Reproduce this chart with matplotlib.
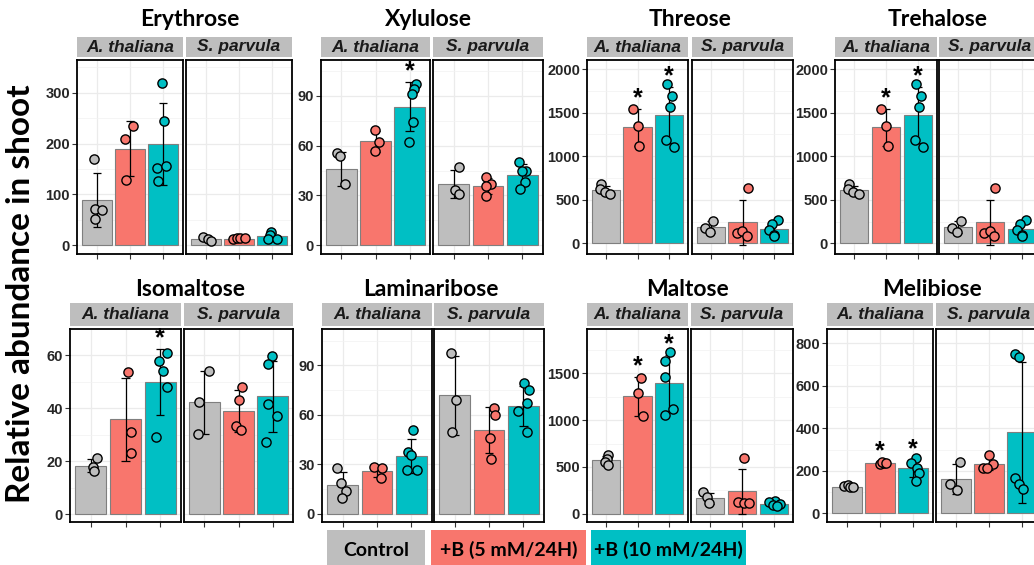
import matplotlib
matplotlib.use("Agg")
import matplotlib.pyplot as plt
from matplotlib.patches import Rectangle
from matplotlib.ticker import MultipleLocator

# ---------------- data ----------------
metabolites = ["Erythrose", "Xylulose", "Threose", "Trehalose",
               "Isomaltose", "Laminaribose", "Maltose", "Melibiose"]
species = ["A. thaliana", "S. parvula"]
treatments = ["Control", "+B (5 mM/24H)", "+B (10 mM/24H)"]
colors = ["#BEBEBE", "#F8766D", "#00BFC4"]

erythrose_mean = [[90, 189.5, 199], [12.5, 13, 18]]
erythrose_sd = [[53, 54, 80], [4, 1.3, 6.5]]
erythrose_points = [[[169, 72, 69, 52], [208, 234, 129], [318, 245, 152, 155, 126]],
                    [[17, 12.5, 8.5], [12, 14, 15, 14], [26, 21, 12, 12]]]
erythrose_jitter = [[[-0.10, -0.07, 0.15, -0.07], [-0.15, 0.10, -0.11], [-0.03, 0.03, -0.18, 0.08, -0.14]],
                    [[-0.08, 0.05, 0.16], [-0.18, -0.06, 0.04, 0.19], [-0.02, -0.05, -0.13, 0.14]]]
erythrose_stars = [[0, 0, 0], [0, 0, 0]]

xylulose_mean = [[46, 62.8, 83.5], [37, 35.6, 42.3]]
xylulose_sd = [[10, 6.3, 14.8], [8.6, 4.7, 6.4]]
xylulose_points = [[[55.5, 54, 37], [69.4, 62.2, 56.7], [97.4, 94, 91, 74.2, 62.2]],
                   [[47, 33, 31], [41, 37, 35.6, 29.6], [50, 45, 45, 38, 34]]]
xylulose_jitter = [[[-0.12, -0.05, 0.10], [-0.01, 0.10, -0.01], [0.19, 0.12, 0.08, 0.10, -0.02]],
                   [[0.17, 0.03, 0.17], [-0.06, 0.09, -0.06, -0.06], [-0.10, 0.10, -0.02, 0.08, -0.06]]]
xylulose_stars = [[0, 0, 1], [0, 0, 0]]

threose_mean = [[610, 1331, 1472], [184, 241, 164]]
threose_sd = [[48, 212, 318], [68, 259, 80]]
threose_points = [[[677, 623, 585, 566], [1537, 1350, 1117], [1828, 1694, 1560, 1185, 1101]],
                  [[172, 126, 260], [631, 115, 145, 84], [268, 222, 153, 96, 80]]]
threose_jitter = [[[-0.16, -0.18, -0.04, 0.14], [-0.15, 0.0, 0.06], [-0.06, 0.10, 0.04, -0.10, 0.15]],
                  [[-0.20, -0.02, 0.08], [0.16, -0.19, -0.01, 0.14], [0.14, -0.07, -0.15, -0.01, 0.01]]]
threose_stars = [[0, 1, 1], [0, 0, 0]]

trehalose_mean = [[610, 1331, 1472], [184, 241, 164]]
trehalose_sd = [[48, 212, 318], [68, 259, 80]]
trehalose_points = [[[677, 623, 585, 566], [1537, 1350, 1117], [1828, 1694, 1560, 1185, 1101]],
                    [[172, 126, 260], [631, 115, 145, 84], [268, 222, 153, 96, 80]]]
trehalose_jitter = [[[-0.16, -0.18, -0.04, 0.14], [-0.15, 0.0, 0.06], [-0.06, 0.10, 0.04, -0.10, 0.15]],
                    [[-0.20, -0.02, 0.08], [0.16, -0.19, -0.01, 0.14], [0.14, -0.07, -0.15, -0.01, 0.01]]]
trehalose_stars = [[0, 1, 1], [0, 0, 0]]

isomaltose_mean = [[18.3, 35.8, 49.8], [42.2, 38.9, 44.4]]
isomaltose_sd = [[2.3, 15.7, 12.6], [11.9, 7.8, 13.5]]
isomaltose_points = [[[21.1, 17.9, 16.1], [53.5, 31.1, 23.1], [60.8, 57.6, 54.1, 47.9, 29.1]],
                     [[54.1, 42.4, 30.2], [48, 43.1, 33.2, 31.8], [59.5, 56.7, 41.6, 37, 27.3]]]
isomaltose_jitter = [[[0.17, 0.05, 0.09], [0.08, 0.15, 0.15], [0.19, -0.03, 0.09, 0.19, -0.13]],
                     [[0.14, -0.15, -0.20], [0.09, 0.02, -0.06, 0.06], [-0.03, -0.12, -0.14, 0.13, -0.19]]]
isomaltose_stars = [[0, 0, 1], [0, 0, 0]]

laminaribose_mean = [[17.2, 25.7, 34.8], [71.7, 50.6, 65.2]]
laminaribose_sd = [[8, 3.7, 10.2], [24, 13.8, 12.2]]
laminaribose_points = [[[27.5, 18.8, 14, 9.7], [28.3, 27.9, 21.7], [51, 37.4, 35.8, 26.3, 26.3]],
                       [[97.6, 68.8, 49.6], [63.8, 60.1, 46, 33.4], [79, 74.9, 67.2, 62.1, 49.6]]]
laminaribose_jitter = [[[-0.15, -0.05, 0.09, -0.03], [-0.08, 0.15, 0.12], [0.04, -0.10, -0.02, -0.14, 0.15]],
                       [[-0.10, 0.04, -0.09], [0.14, 0.17, 0.02, 0.06], [0.03, 0.17, 0.10, -0.16, 0.10]]]
laminaribose_stars = [[0, 0, 0], [0, 0, 0]]

maltose_mean = [[571, 1257, 1396], [167, 239, 107]]
maltose_sd = [[45, 207, 302], [58, 240, 25]]
maltose_points = [[[629, 589, 554, 525], [1454, 1286, 1043], [1732, 1636, 1461, 1121, 1054]],
                  [[231, 178, 114], [600, 125, 120, 110], [140, 130, 105, 90, 80]]]
maltose_jitter = [[[0.05, 0.03, -0.02, 0.05], [0.11, 0.03, 0.16], [0.04, -0.12, -0.12, 0.11, -0.14]],
                  [[-0.21, -0.10, -0.02], [0.07, -0.12, 0.05, 0.22], [0.03, -0.15, 0.19, -0.04, 0.10]]]
maltose_stars = [[0, 1, 1], [0, 0, 0]]

melibiose_mean = [[126, 237, 211], [162, 234, 381]]
melibiose_sd = [[5, 4, 42], [71, 29, 333]]
melibiose_points = [[[128, 133, 122, 122], [234, 239, 242, 237], [262, 237, 214, 192, 153]],
                    [[243, 136, 109], [276, 234, 211, 215], [752, 736, 168, 137, 114]]]
melibiose_jitter = [[[-0.08, 0.02, 0.10, 0.17], [0.0, 0.12, 0.06, 0.18], [0.08, -0.05, 0.12, 0.18, 0.08]],
                    [[0.12, -0.18, 0.04], [0.0, 0.12, -0.18, -0.05], [-0.22, -0.08, -0.22, -0.10, 0.02]]]
melibiose_stars = [[0, 1, 1], [0, 0, 0]]

panel_data = [
    (erythrose_mean, erythrose_sd, erythrose_points, erythrose_jitter, erythrose_stars),
    (xylulose_mean, xylulose_sd, xylulose_points, xylulose_jitter, xylulose_stars),
    (threose_mean, threose_sd, threose_points, threose_jitter, threose_stars),
    (trehalose_mean, trehalose_sd, trehalose_points, trehalose_jitter, trehalose_stars),
    (isomaltose_mean, isomaltose_sd, isomaltose_points, isomaltose_jitter, isomaltose_stars),
    (laminaribose_mean, laminaribose_sd, laminaribose_points, laminaribose_jitter, laminaribose_stars),
    (maltose_mean, maltose_sd, maltose_points, maltose_jitter, maltose_stars),
    (melibiose_mean, melibiose_sd, melibiose_points, melibiose_jitter, melibiose_stars),
]

# ---------------- layout (pixels) ----------------
W, H = 1034, 565
panel_x = [(77, 183, 186, 292), (321, 430, 433, 543), (587, 688, 692, 793), (835, 937, 939, 1041),
           (70, 181, 184, 293), (322, 432, 434, 544), (587, 688, 691, 793), (827, 933, 936, 1042)]
row_y = [dict(st=37, sb=57, pt=60, pb=254, title=26),
         dict(st=303, sb=326, pt=328.5, pb=522, title=296)]
title_x = [190, 428, 690, 938, 190, 431, 688, 932]
ylims = [(-17, 364), (-5.3, 111.7), (-122, 2104), (-122, 2104),
         (-3.0, 70), (-5.1, 112.3), (-88, 1980), (-41, 870)]
ymajor = [100, 30, 500, 500, 20, 30, 500, 200]

TICKFONT = "Liberation Sans"
TXTFONT = "Lato"

fig = plt.figure(figsize=(W / 100, H / 100), dpi=100)


def add_ax(l, r, t, b):
    return fig.add_axes([l / W, 1 - b / H, (r - l) / W, (b - t) / H])


xs = [0, 1, 2]
for k, name in enumerate(metabolites):
    means, sds, pts, jit, stars = panel_data[k]
    ry = row_y[k // 4]
    xa = panel_x[k]
    for s in range(2):
        l, r = xa[2 * s], xa[2 * s + 1]
        ax = add_ax(l, r, ry["pt"], ry["pb"])
        ax.set_xlim(-0.6, 2.6)
        ax.set_ylim(*ylims[k])
        ax.set_axisbelow(True)
        ax.yaxis.set_major_locator(MultipleLocator(ymajor[k]))
        ax.yaxis.set_minor_locator(MultipleLocator(ymajor[k] / 2))
        ax.set_xticks(xs)
        ax.set_xticklabels([])
        ax.grid(which="major", color="#EBEBEB", lw=0.9)
        ax.grid(which="minor", axis="y", color="#F2F2F2", lw=0.5)
        ax.tick_params(axis="x", length=3.5, width=0.8, color="#333333")
        ax.tick_params(axis="y", which="minor", length=0)
        if s == 0:
            ax.tick_params(axis="y", which="major", length=3.5, width=0.8, color="#333333", pad=1.5,
                           labelsize=10.5, labelcolor="#262626")
            for lab in ax.get_yticklabels():
                lab.set_fontfamily(TICKFONT)
                lab.set_fontweight("bold")
        else:
            ax.tick_params(axis="y", which="major", length=0, labelleft=False)
        for sp in ax.spines.values():
            sp.set_color("black")
            sp.set_linewidth(1.3)
        # bars
        ax.bar(xs, means[s], width=0.9, color=colors, edgecolor="#7F7F7F", linewidth=0.8, zorder=2)
        # error bars
        lo = [m - d for m, d in zip(means[s], sds[s])]
        hi = [m + d for m, d in zip(means[s], sds[s])]
        ax.vlines(xs, lo, hi, color="black", lw=0.9, zorder=3)
        for x0, a, b in zip(xs, lo, hi):
            ax.hlines([a, b], x0 - 0.12, x0 + 0.12, color="black", lw=0.9, zorder=3)
        # points
        for t in range(3):
            px = [xs[t] + j for j in jit[s][t]]
            ax.scatter(px, pts[s][t], s=44, color=colors[t], edgecolors="black",
                       linewidths=1.0, zorder=4)
        # significance stars
        rng = ylims[k][1] - ylims[k][0]
        for t in range(3):
            if stars[s][t]:
                ax.text(xs[t], hi[t] + 0.055 * rng, "*", ha="center", va="center",
                        fontsize=18, fontweight="bold", family=TICKFONT, color="black", zorder=5)
        # strip
        fig.add_artist(Rectangle((l / W, 1 - ry["sb"] / H), (r - l) / W, (ry["sb"] - ry["st"]) / H,
                                 transform=fig.transFigure, facecolor="#BEBEBE", edgecolor="none"))
        fig.text((l + r) / 2 / W, 1 - (ry["st"] + ry["sb"]) / 2 / H, species[s], ha="center",
                 va="center", fontsize=12.5, fontweight="bold", fontstyle="italic",
                 family=TICKFONT, color="#1A1A1A")
    fig.text(title_x[k] / W, 1 - ry["title"] / H, name, ha="center", va="baseline",
             fontsize=16.5, fontweight="bold", family=TXTFONT, color="black")

# y label
fig.text(21 / W, 1 - 294 / H, "Relative abundance in shoot", rotation=90, ha="center", va="center",
         fontsize=24, fontweight="bold", family=TXTFONT, color="black")

# legend boxes
legend_x = [(327, 425), (431, 586), (591, 746)]
for (l, r), c, lab in zip(legend_x, colors, treatments):
    fig.add_artist(Rectangle((l / W, 1 - 570 / H), (r - l) / W, 40 / H,
                             transform=fig.transFigure, facecolor=c, edgecolor="none"))
    fig.text((l + r) / 2 / W, 1 - 550 / H, lab, ha="center", va="center", fontsize=14,
             fontweight="bold", family=TXTFONT, color="black")

fig.savefig("out.png", dpi=100)
